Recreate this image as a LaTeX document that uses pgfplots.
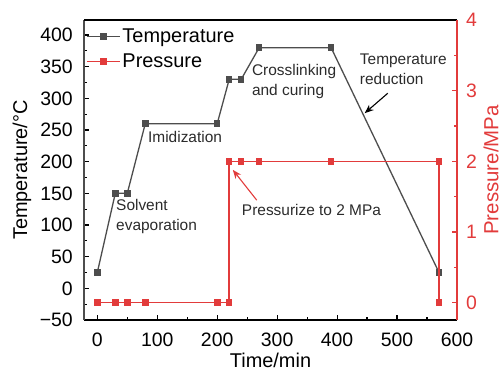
\documentclass[border=0pt]{standalone}
\usepackage{fontspec}
\setmainfont{Liberation Sans}
\usepackage{pgfplots}
\pgfplotsset{compat=1.18}
\usetikzlibrary{arrows.meta}
\definecolor{tgray}{HTML}{4D4D4D}
\definecolor{pred}{HTML}{E23B3B}
\definecolor{annot}{HTML}{2B2B2B}
\begin{document}
\begin{tikzpicture}
\useasboundingbox (-84bp,-54bp) rectangle (419bp,320bp);
\begin{axis}[
  scale only axis, width=373bp, height=300bp,
  xmin=-22.2, xmax=600, ymin=-50, ymax=423.7,
  axis x line*=bottom, axis y line*=left,
  x axis line style={black, line width=1.4bp},
  y axis line style={tgray, line width=1.2bp},
  xtick={0,100,...,600}, minor x tick num=1,
  ytick={-50,0,...,400}, minor y tick num=1,
  yticklabels={−50,0,50,100,150,200,250,300,350,400},
  major tick length=5bp, minor tick length=3bp,
  every tick/.style={black, line width=1.2bp},
  /pgf/number format/assume math mode=true,
  ticklabel style={font=\fontsize{19.5}{23}\selectfont},
  xticklabel style={anchor=base, inner sep=0pt, yshift=-26.5bp},
  yticklabel style={anchor=east, inner sep=0pt, xshift=-11bp},
  xlabel={Time/min}, ylabel={Temperature/°C},
  label style={font=\fontsize{20}{24}\selectfont},
  xlabel style={at={(axis description cs:0.5,-0.157)}, anchor=base, inner sep=0pt},
  ylabel style={at={(axis description cs:-0.1528,0.5)}, anchor=base, inner sep=0pt},
  legend style={at={(axis description cs:0.0,0.985)}, anchor=north west, draw=none, fill=none,
    font=\fontsize{20}{24}\selectfont, row sep=6bp, inner sep=2bp},
  legend cell align=left,
  legend image code/.code={\draw[mark repeat=2,mark phase=2,#1] plot coordinates {(0bp,0bp) (16.5bp,0bp) (33bp,0bp)};},
  clip=false,
]
\addplot[tgray, line width=1.3bp, mark=square*, mark size=2.6bp, mark options={fill=tgray}] coordinates {
  (0,25) (30,150) (50,150) (80,260) (200,260) (220,330) (240,330) (270,380) (390,380) (570,25)};
\addlegendentry{Temperature}
\addlegendimage{pred, line width=1.3bp, mark=square*, mark size=2.6bp, mark options={fill=pred}}
\addlegendentry{Pressure}
\node[anchor=north west, inner sep=0pt, align=left, text=annot, font=\fontsize{15.5}{20}\selectfont] at (axis cs:31.2,140.7) {Solvent\\evaporation};
\node[anchor=north west, inner sep=0pt, align=left, text=annot, font=\fontsize{15.5}{20}\selectfont] at (axis cs:84.5,248) {Imidization};
\node[anchor=north west, inner sep=0pt, align=left, text=annot, font=\fontsize{15.5}{20}\selectfont] at (axis cs:257.8,354) {Crosslinking\\and curing};
\node[anchor=north west, inner sep=0pt, align=left, text=annot, font=\fontsize{15.5}{20}\selectfont] at (axis cs:437.8,370) {Temperature\\reduction};
\node[anchor=north west, inner sep=0pt, align=left, text=annot, font=\fontsize{15.5}{20}\selectfont] at (axis cs:241,133) {Pressurize to 2 MPa};
\draw[black, line width=1.1bp, -{Stealth[length=9bp, width=7bp]}] (axis cs:484.5,308) -- (axis cs:446,276.5);
\end{axis}
\begin{axis}[
  scale only axis, width=373bp, height=300bp,
  xmin=-22.2, xmax=600, ymin=-0.245, ymax=4,
  axis x line*=top, axis y line*=right,
  x axis line style={black, line width=1.4bp},
  y axis line style={pred, line width=1.4bp},
  xtick=\empty,
  ytick={0,1,2,3,4}, minor y tick num=1,
  major tick length=5bp, minor tick length=3bp,
  every tick/.style={pred, line width=1.2bp},
  /pgf/number format/assume math mode=true,
  yticklabel style={font=\fontsize{19.5}{23}\selectfont, text=pred, anchor=west, inner sep=0pt, xshift=9bp},
  ylabel={Pressure/MPa},
  ylabel style={font=\fontsize{20.5}{24}\selectfont, text=pred, at={(axis description cs:1.111,0.5)}, anchor=base, inner sep=0pt},
  clip=false,
]
\addplot[pred, line width=1.4bp, mark=square*, mark size=2.6bp, mark options={fill=pred}] coordinates {
  (0,0) (30,0) (50,0) (80,0) (200,0) (220,0) (220,2) (240,2) (270,2) (390,2) (570,2) (570,0)};
\draw[pred, line width=1.1bp, -{Stealth[length=9bp, width=7bp]}] (axis cs:266,1.45) -- (axis cs:226,1.88);
\end{axis}
\end{tikzpicture}
\end{document}
